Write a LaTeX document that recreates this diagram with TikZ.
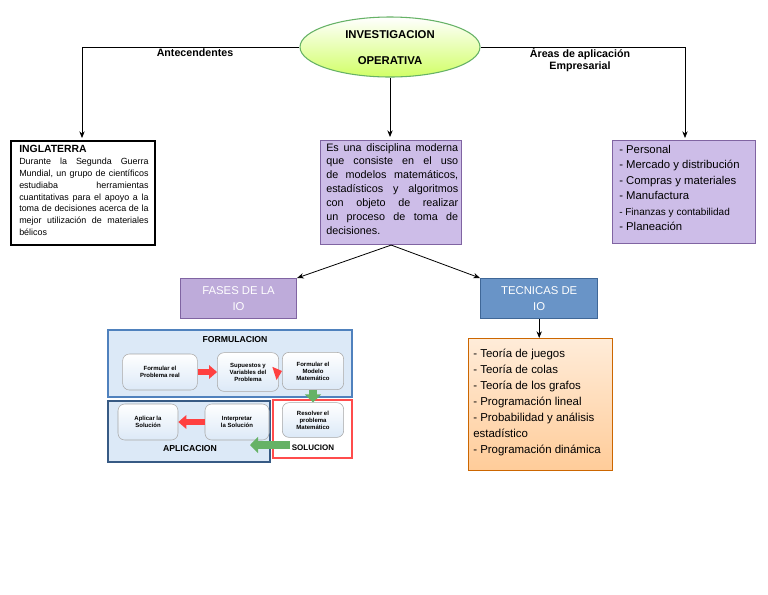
\documentclass[tikz,border=0pt]{standalone}
\usepackage{fontspec}
\setmainfont{Liberation Sans}
\usetikzlibrary{shapes.geometric,arrows.meta}
\hyphenpenalty=10000 \exhyphenpenalty=10000
\definecolor{lil}{HTML}{CDBDE8}
\definecolor{lilb}{HTML}{8064A2}
\definecolor{pb}{HTML}{DCE9F7}
\definecolor{bb}{HTML}{4F81BD}
\tikzset{
 con/.style={draw=black,line width=0.6pt,-{Stealth[length=5pt,width=4pt]}},
 lbox/.style={draw=lilb,fill=lil,line width=0.8pt,inner sep=3pt,align=left},
 rbox/.style={draw=gray!70,fill=white,rounded corners=5pt,font=\bfseries\fontsize{4.5}{5.2}\selectfont,align=center,inner sep=1pt,
  top color=white,bottom color=pb},
 redarr/.style={draw=red!75,line width=4pt,-{Triangle[length=6pt,width=10pt]}},
 grnarr/.style={draw=green!50!black!60,line width=6pt,-{Triangle[length=6pt,width=12pt]}},
 lab/.style={font=\bfseries\fontsize{8}{9}\selectfont,align=center}
}
\begin{document}
\begin{tikzpicture}[x=0.75pt,y=-0.75pt]
\useasboundingbox (0,0) rectangle (768,594);
\fill[white] (0,0) rectangle (768,594);
% ellipse
\node[ellipse,draw=green!50!black!60,line width=0.8pt,top color=white,bottom color=green!30!yellow!60,minimum width=135pt,minimum height=45pt] (io) at (390,47) {};
\node[lab,font=\bfseries\fontsize{8.5}{10}\selectfont] (t1) at (390,35) {INVESTIGACION};
\node[lab,font=\bfseries\fontsize{8.5}{10}\selectfont] (t2) at (390,61) {OPERATIVA};
% boxes
\node[draw=black,line width=1.2pt,minimum width=108pt,minimum height=78pt,anchor=north west,inner sep=0pt] (ing) at (10,140) {};
\node[anchor=north west,text width=97pt,align=justify,font=\fontsize{6.7}{8.9}\selectfont,inner sep=0pt] (ingt) at (19,145)
 {{\bfseries\fontsize{7.8}{9}\selectfont INGLATERRA}\\ Durante la Segunda Guerra Mundial, un grupo de científicos estudiaba herramientas cuantitativas para el apoyo a la toma de decisiones acerca de la mejor utilización de materiales bélicos};
\node[lbox,anchor=north west,minimum width=106pt,minimum height=78pt,inner sep=0pt] (cen) at (320,140) {};
\node[anchor=north west,text width=99pt,align=justify,font=\fontsize{8.1}{10.4}\selectfont,inner sep=0pt] (cent) at (326,143)
 {Es una disciplina moderna que consiste en el uso de modelos matemáticos, estadísticos y algoritmos con objeto de realizar un proceso de toma de decisiones.};
\node[lbox,anchor=north west,minimum width=107pt,minimum height=77pt,inner sep=0pt] (ar) at (612,140) {};
\node[anchor=north west,align=left,font=\fontsize{8.5}{11.6}\selectfont,inner sep=0pt] (art) at (619,145)
 {- Personal\\- Mercado y distribución\\- Compras y materiales\\- Manufactura\\{\fontsize{7.5}{11.6}\selectfont- Finanzas y contabilidad}\\- Planeación};
% connectors
\coordinate (l1) at (82,47); \coordinate (r1) at (685,47);
\draw[line width=0.6pt] (io.west) -- (l1);
\draw[con] (l1) -- (82,138);
\draw[line width=0.6pt] (io.east) -- (r1);
\draw[con] (r1) -- (685,138);
\draw[con] (io.south) -- (390,137);
\node[lab] (ant) at (195,53) {Antecendentes};
\node[lab,font=\bfseries\fontsize{8}{8.5}\selectfont] (are) at (580,60) {Áreas de aplicación\\Empresarial};
% fases / tecnicas
\node[draw=lilb,fill=lil!80!lilb,line width=0.8pt,minimum width=87pt,minimum height=30pt,anchor=north west,inner sep=0pt] (fas) at (180,278) {};
\node[text=white,align=center,font=\fontsize{8.5}{12}\selectfont] at (fas.center) {FASES DE LA\\IO};
\node[draw=bb!80!black,fill=bb!85!white,line width=0.8pt,minimum width=88pt,minimum height=30pt,anchor=north west,inner sep=0pt] (tec) at (480,278) {};
\node[text=white,align=center,font=\fontsize{8.5}{12}\selectfont] at (tec.center) {TECNICAS DE\\IO};
\draw[con] (cen.south) -- (fas.north east);
\draw[con] (cen.south) -- (tec.north west);
\node[draw=orange!80!black,line width=0.8pt,top color=orange!15,bottom color=orange!40,minimum width=108pt,minimum height=99pt,anchor=north west,inner sep=0pt] (tb) at (468,338) {};
\draw[con] (tec.south) -- (tb.north -| tec.south);
\node[anchor=north west,align=left,font=\fontsize{8.6}{12}\selectfont,inner sep=0pt] (tbt) at (473,349)
 {- Teoría de juegos\\- Teoría de colas\\- Teoría de los grafos\\- Programación lineal\\- Probabilidad y análisis\\estadístico\\- Programación dinámica};
% phases diagram
\draw[draw=bb,line width=1.2pt,fill=pb] (108,330) rectangle (352,397);
\node[font=\bfseries\fontsize{6.5}{7}\selectfont] (fo) at (235,340) {FORMULACION};
\draw[draw=bb!70!black,line width=1.6pt,fill=pb] (108,401) rectangle (270,462);
\draw[draw=red!70,line width=1pt,fill=white] (273,400) rectangle (352,458);
\node[rbox,minimum width=56pt,minimum height=27pt] (b1) at (160,372) {Formular el\\Problema real};
\node[rbox,minimum width=46pt,minimum height=29pt] (b2) at (248,372) {Supuestos y\\Variables del\\Problema};
\node[rbox,minimum width=46pt,minimum height=28pt] (b3) at (313,371) {Formular el\\Modelo\\Matemático};
\node[rbox,minimum width=46pt,minimum height=26pt] (b5) at (313,420) {Resolver el\\problema\\Matemático};
\node[rbox,minimum width=48pt,minimum height=27pt] (b6) at (237,422) {Interpretar\\la Solución};
\node[rbox,minimum width=45pt,minimum height=27pt] (b7) at (148,422) {Aplicar la\\Solución};
\draw[redarr] (b1.east) -- (b2.west);
\draw[redarr] (b2.east) -- (b3.west);
\draw[redarr] (b6.west) -- (b7.east);
\draw[grnarr] (b3.south) -- (b5.north);
\coordinate (g1) at (290,445); \coordinate (g2) at (250,445);
\draw[grnarr] (g1) -- (g2);
\node[font=\bfseries\fontsize{6.5}{7}\selectfont] (ap) at (190,449) {APLICACION};
\node[font=\bfseries\fontsize{6}{7}\selectfont] (so) at (313,448) {SOLUCION};
\end{tikzpicture}
\end{document}
